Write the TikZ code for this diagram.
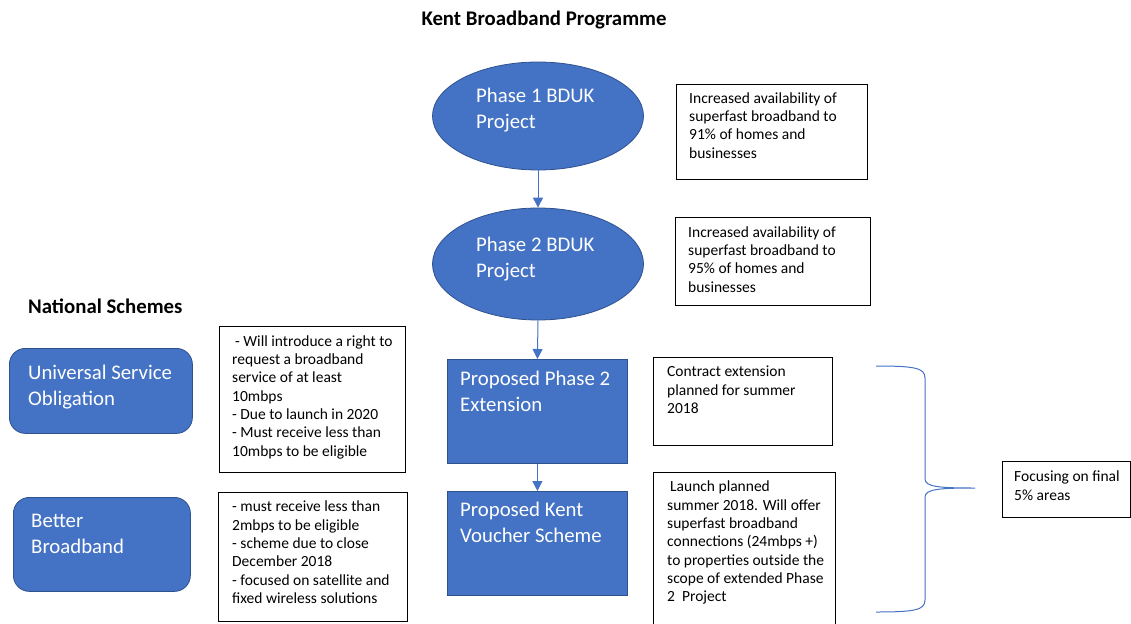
\documentclass[tikz,border=0pt]{standalone}
\usepackage{fontspec}
\setmainfont{Carlito}
\usetikzlibrary{shapes.geometric,arrows.meta}
\definecolor{obl}{HTML}{4472C4}
\definecolor{obd}{HTML}{2F528F}
\begin{document}
\begin{tikzpicture}[x=1pt,y=-1pt,
  blueshape/.style={fill=obl, draw=obd, line width=0.8pt, inner sep=0pt},
  wbox/.style={draw=black, line width=0.9pt, fill=white, inner sep=0pt, anchor=north west},
  stxt/.style={font=\fontsize{15.5}{18.3}\selectfont, align=left, inner sep=0pt, anchor=north west, yshift=12.81pt},
  btxt/.style={font=\fontsize{20.8}{26}\selectfont, text=white, align=left, inner sep=0pt, anchor=north west, yshift=18.2pt},
  head/.style={font=\fontsize{20.8}{25}\selectfont\bfseries, inner sep=0pt},
  link/.style={draw=obl, line width=1pt, -{Triangle[width=10pt,length=10pt]}},
  bracestyle/.style={draw=obl, line width=1pt}]
\useasboundingbox (0,0) rectangle (1131,623);

% titles
\node[head] (title) at (544,20) {Kent Broadband Programme};
\node[head, anchor=west] (natl) at (28,306) {National Schemes};

% central column
\node[ellipse, blueshape, minimum width=211pt, minimum height=108pt] (e1) at (538,116) {};
\node[ellipse, blueshape, minimum width=211pt, minimum height=112pt] (e2) at (538,264) {};
\node[rectangle, blueshape, anchor=north west, minimum width=180pt, minimum height=104pt] (p1) at (447,359) {};
\node[rectangle, blueshape, anchor=north west, minimum width=180pt, minimum height=104pt] (p2) at (447,491) {};

\node[btxt] (e1t) at (476,102.7) {\strut Phase 1 BDUK\\Project};
\node[btxt] (e2t) at (476,251) {\strut Phase 2 BDUK\\Project};
\node[btxt] (p1t) at (460,385.7) {\strut Proposed Phase 2\\Extension};
\node[btxt] (p2t) at (460,516.7) {\strut Proposed Kent\\Voucher Scheme};

\draw[link] (e1.south) -- (e2.north);
\draw[link] (e2.south) -- (p1.north);
\draw[link] (p1.south) -- (p2.north);

% national schemes
\node[rectangle, rounded corners=16pt, blueshape, anchor=north west, minimum width=183pt, minimum height=85pt] (uso) at (9,348) {};
\node[rectangle, rounded corners=16pt, blueshape, anchor=north west, minimum width=177pt, minimum height=94pt] (bb) at (13,497) {};
\node[btxt] (usot) at (28,379.3) {\strut Universal Service\\Obligation};
\node[btxt] (bbt) at (31,527) {\strut Better\\Broadband};

% white boxes
\node[wbox, minimum width=191pt, minimum height=95pt] (r1) at (676,84) {};
\node[wbox, minimum width=195pt, minimum height=88pt] (r2) at (675,217) {};
\node[wbox, minimum width=179pt, minimum height=88pt] (r3) at (653,357) {};
\node[wbox, minimum width=182pt, minimum height=158pt] (r4) at (653,472) {};
\node[wbox, minimum width=128pt, minimum height=56pt] (r5) at (1002,461) {};
\node[wbox, minimum width=186pt, minimum height=146pt] (u1) at (219,326) {};
\node[wbox, minimum width=189pt, minimum height=129pt] (u2) at (218,492) {};

\node[stxt] (r1t) at (689,103) {\strut Increased availability of\\superfast broadband to\\91\% of homes and\\businesses};
\node[stxt] (r2t) at (688,237) {\strut Increased availability of\\superfast broadband to\\95\% of homes and\\businesses};
\node[stxt] (r3t) at (667,376.7) {\strut Contract extension\\planned for summer\\2018};
\node[stxt] (r4t) at (667,491.7) {\strut\hspace{3pt}Launch planned\\summer 2018. Will offer\\superfast broadband\\connections (24mbps +)\\to properties outside the\\scope of extended Phase\\2\ \ Project};
\node[stxt] (r5t) at (1014,481.7) {\strut Focusing on final\\5\% areas};
\node[stxt] (u1t) at (232,346) {\strut\hspace{3pt}- Will introduce a right to\\request a broadband\\service of at least\\10mbps\\- Due to launch in 2020\\- Must receive less than\\10mbps to be eligible};
\node[stxt] (u2t) at (232,511.7) {\strut - must receive less than\\2mbps to be eligible\\- scheme due to close\\December 2018\\- focused on satellite and\\fixed wireless solutions};

% brace
\draw[bracestyle] (876,366) .. controls (915,366) and (925,368) .. (925,378)
  -- (925,479) .. controls (925,487) and (940,488) .. (975,488)
  .. controls (940,488) and (925,489) .. (925,497)
  -- (925,600) .. controls (925,610) and (915,612) .. (876,612);
\end{tikzpicture}
\end{document}
